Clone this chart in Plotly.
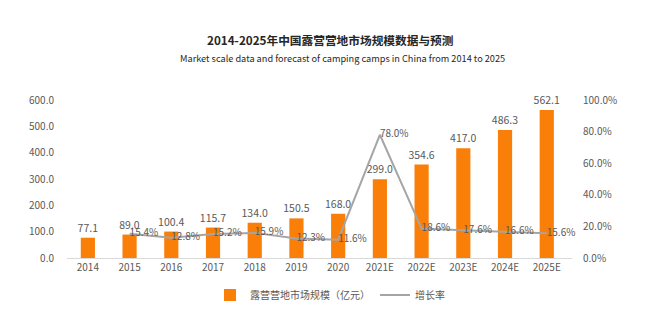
import plotly.graph_objects as go

years = ["2014", "2015", "2016", "2017", "2018", "2019", "2020",
         "2021E", "2022E", "2023E", "2024E", "2025E"]
market_size = [77.1, 89.0, 100.4, 115.7, 134.0, 150.5, 168.0,
               299.0, 354.6, 417.0, 486.3, 562.1]
growth_years = years[1:]
growth_rate = [15.4, 12.8, 15.2, 15.9, 12.3, 11.6, 78.0, 18.6, 17.6, 16.6, 15.6]

FONT = "Noto Sans CJK SC"
TXT = "#595959"

W, H = 660, 329
ML, MR, MT, MB = 67, 88, 100, 71

fig = go.Figure()
fig.add_trace(go.Bar(
    x=years, y=market_size, name="露营营地市场规模（亿元）",
    marker=dict(color="#FA7F08", line=dict(width=0)),
    text=[f"{v:.1f}" for v in market_size], textposition="outside",
    constraintext="none",
    textfont=dict(size=10.5, color=TXT, family=FONT), cliponaxis=False,
))
fig.add_trace(go.Scatter(
    x=growth_years, y=growth_rate, name="增长率", yaxis="y2",
    mode="lines+text", line=dict(color="#A5A5A5", width=2),
    text=[f"{v:.1f}%" for v in growth_rate], textposition="middle right",
    textfont=dict(size=10, color=TXT, family=FONT), cliponaxis=False,
))


def paper_x(px):
    return (px - ML) / (W - ML - MR)


def paper_y(py):
    return (H - MB - py) / (H - MT - MB)


fig.update_layout(
    width=W, height=H,
    margin=dict(l=ML, r=MR, t=MT, b=MB),
    paper_bgcolor="white", plot_bgcolor="white",
    font=dict(family=FONT, color=TXT, size=10),
    bargap=0.66,
    showlegend=True,
    legend=dict(orientation="h", x=paper_x(330), xanchor="center",
                y=paper_y(295), yanchor="middle",
                font=dict(size=10, color=TXT), itemwidth=30, traceorder="normal"),
    xaxis=dict(type="category", showgrid=False, showline=True, linecolor="#D9D9D9",
               linewidth=1, ticks="", tickfont=dict(size=10, color=TXT)),
    yaxis=dict(range=[0, 600], dtick=100, tickformat=".1f", showgrid=False,
               zeroline=False, showline=False, ticks="", ticklabelstandoff=12,
               tickfont=dict(size=10, color=TXT)),
    yaxis2=dict(range=[0, 100], dtick=20, overlaying="y", side="right",
                ticksuffix="%", tickformat=".1f", showgrid=False, zeroline=False,
                showline=False, ticks="", ticklabelstandoff=10,
                tickfont=dict(size=10, color=TXT)),
    annotations=[
        dict(text="<b>2014-2025年中国露营营地市场规模数据与预测</b>",
             x=paper_x(330), y=paper_y(40), xref="paper", yref="paper",
             yanchor="middle", showarrow=False,
             font=dict(size=11.7, color="#262626", family=FONT)),
        dict(text="Market scale data and forecast of camping camps in China from 2014 to 2025",
             x=paper_x(342), y=paper_y(58), xref="paper", yref="paper",
             yanchor="middle", showarrow=False,
             font=dict(size=9.2, color="#262626", family=FONT)),
    ],
)

fig.write_html("out.html")
